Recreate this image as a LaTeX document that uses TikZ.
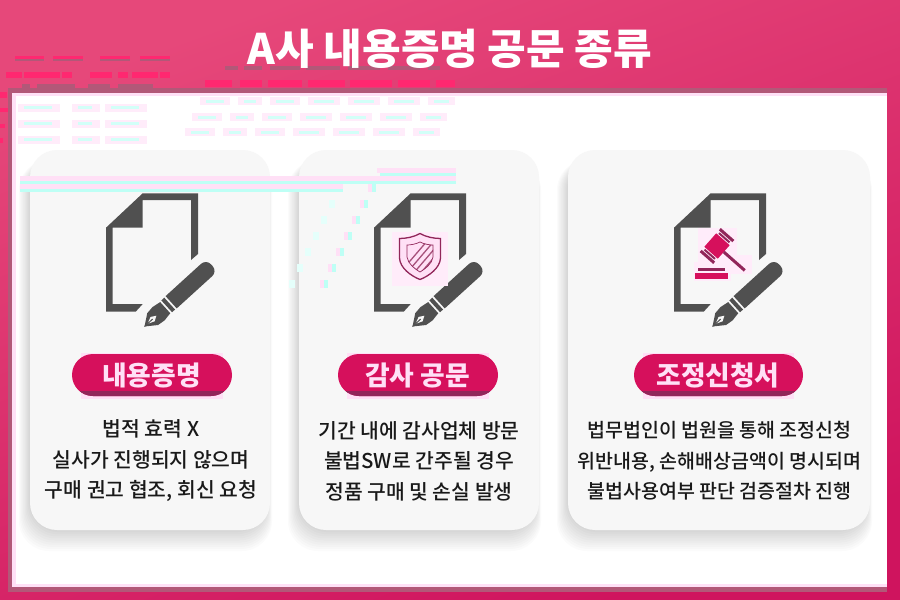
\documentclass[tikz,border=0pt]{standalone}
\usepackage{fontspec}
\setmainfont{Noto Sans CJK KR Medium}
\newfontfamily\krb{Noto Sans CJK KR Black}
\definecolor{bgA}{RGB}{230,72,122}
\definecolor{bgB}{RGB}{207,20,94}
\definecolor{ink}{RGB}{80,80,80}
\definecolor{cardc}{RGB}{247,247,247}
\definecolor{crim}{RGB}{214,16,92}
\definecolor{crimd}{RGB}{145,38,90}
\definecolor{halo}{RGB}{255,224,246}
\definecolor{halol}{RGB}{255,236,250}
\definecolor{ciano}{RGB}{190,255,245}
\definecolor{hot}{RGB}{255,40,112}
\definecolor{mute}{RGB}{178,88,120}
\tikzset{
  x=1pt,y=-1pt,
  pilltext/.style={text=halo,font=\krb\fontsize{26.8}{26.8}\selectfont,inner sep=0},
  bodytext/.style={text=black!90,font=\fontsize{20.4}{30.5}\selectfont,align=center,inner sep=0},
  bodywide/.style={text=black!90,font=\fontsize{19.5}{30.5}\selectfont,align=center,inner sep=0},
  titletext/.style={text=white,font=\krb\fontsize{42}{42}\selectfont,inner sep=0},
}
\newcommand\rr[5]{\fill[#5] (#1,#3) -- (#2,#3) -- (#2,#4) -- (#1,#4) -- cycle;}
\newcommand\mycard[2]{%
  \foreach \s in {20,18,...,2}{%
    \fill[black,opacity=0.016,rounded corners=30pt] (#1-\s*0.55,160) rectangle (#2-4+\s*0.3,530+\s*1.05);
  }
  \fill[cardc,rounded corners=27pt] (#1,150) rectangle (#2,530);
}
\newcommand\docicon[1]{%
  \begin{scope}[shift={(#1,0)}]
    \fill[ink] (106,227.7)--(142.7,193.3)--(198,193.3)--(198,254)--(191,260)--(191,200)--(142.7,200)--(142.7,227.7)--(112.7,227.7)--(112.7,304)--(142.7,304)--(135.7,311.7)--(106,311.7)--cycle;
    \begin{scope}[shift={(144.5,326.5)},x={(0.74pt,0.673pt)},y={(0.673pt,-0.74pt)}]
      \fill[ink] (36,-8.3) [rounded corners=7pt] -- (91,-8.3) -- (91,8.3) [sharp corners] -- (36,8.3) -- cycle;
      \rr{30}{34}{-8}{8}{ink}
      \fill[ink] (0,0) -- (11,-8) -- (19,-9) -- (28,-7.5) -- (28,7.5) -- (19,9) -- (11,8) -- cycle;
      \fill[cardc] (4,0) -- (11,-3) -- (16,0) -- (11,3) -- cycle;
      \rr{0}{11}{-0.5}{0.5}{ink}
    \end{scope}
  \end{scope}
}
\newcommand\mypill[4]{%
  \fill[halo] (#1+9,353) rectangle (#2-9,399);
  \fill[crim,rounded corners=21pt] (#1,354) rectangle (#2,396);
  \begin{scope}
    \clip (#1,391) rectangle (#2,397);
    \fill[crimd,rounded corners=21pt] (#1,354) rectangle (#2,396);
  \end{scope}
  \node[pilltext] (#4) at ({(#1+#2)/2-0.5},375) {#3};
}
\begin{document}
\begin{tikzpicture}
\useasboundingbox (0,0) rectangle (900,600);
\shade[top color=bgA,bottom color=bgB,shading angle=20] (0,0) rectangle (900,600);
\fill[mute] (8,88) rectangle (887,93);
\fill[mute] (8,88) rectangle (12,592);
\fill[mute] (8,587) rectangle (887,592);
\fill[white] (12,93) rectangle (887,587);
\fill[halo] (12,93) rectangle (887,96);
\fill[halo] (12,93) rectangle (16,587);
\fill[halo] (12,584) rectangle (887,587);
\foreach \a/\b in {15/44,53/83,100/130,140/170}{\fill[hot] (\a,56) rectangle (\b,59);\fill[mute] (\a,59) rectangle (\b,61);}
\foreach \a/\b in {6/22,24/60,62/72,90/112,118/128,132/158,160/170}{\fill[hot] (\a,72) rectangle (\b,78);}
\foreach \a/\b in {22/30,37/75,88/110,118/153}{\fill[mute] (\a,84) rectangle (\b,88);}
\fill[hot] (0,92) rectangle (7,98);\fill[hot] (0,108) rectangle (8,112);\fill[hot] (0,124) rectangle (5,128);\fill[hot] (0,138) rectangle (3,143);
\foreach \y in {104,120,136}{\foreach \a/\b in {18/60,72/100,105/147}{\fill[halol] (\a,\y) rectangle (\b,\y+8);\fill[ciano!70] (\a+6,\y+2) rectangle (\b-8,\y+5);}}
\foreach \a/\b in {225/238,244/262,270/300,306/340,348/380,388/420,428/440}{\fill[mute] (\a,66) rectangle (\b,70);}
\foreach \a/\b in {205/232,240/262,268/302,308/345,350/392,398/430,436/455}{\fill[hot] (\a,80) rectangle (\b,87);}
\foreach \y/\s in {97/200,113/192,128/185}{\foreach \a/\b in {0/30,38/62,70/100,108/140,148/180,188/220,228/255}{\fill[halol] (\s+\a,\y) rectangle (\s+\b,\y+8);\fill[ciano!70] (\s+\a+6,\y+3) rectangle (\s+\b-6,\y+6);}}
\mycard{30}{270}
\mycard{299}{539}
\mycard{568}{870}
\fill[halo] (377,168) rectangle (456,173);
\fill[ciano] (380,173) rectangle (456,176);
\fill[halo] (20,176) rectangle (456,181);
\fill[ciano] (20,181) rectangle (456,184);
\fill[halo] (20,184) rectangle (343,189);
\fill[ciano] (20,189) rectangle (343,192);
\fill[halo] (368,184) rectangle (372,192);
\fill[ciano] (372,184) rectangle (376,192);
\foreach \k in {0,...,5}{%
  \fill[halo] (360-\k*8,200+\k*16) rectangle (364-\k*8,208+\k*16);
  \fill[ciano] (364-\k*8,200+\k*16) rectangle (368-\k*8,208+\k*16);
  \fill[ciano!40] (329-\k*8,200+\k*16) rectangle (335-\k*8,208+\k*16);
}
\docicon{0}
\docicon{268}
\docicon{568}
\fill[halol] (392,232) rectangle (448,286);
\path[fill=halo,draw=crimd,line width=1.3pt] (420,233.5) .. controls (414,237) and (406,238.5) .. (399.5,238.5) -- (399.5,258) .. controls (400,268) and (411,276) .. (420,279.5) .. controls (429,276) and (440,268) .. (440.5,258) -- (440.5,238.5) .. controls (434,238.5) and (426,237) .. cycle;
\begin{scope}
  \clip (420,242) .. controls (416,244) and (411,245) .. (407,245) -- (407,257) .. controls (408,264) and (415,269) .. (420,272) .. controls (425,269) and (432,264) .. (433,257) -- (433,245) .. controls (429,245) and (424,244) .. cycle;
  \foreach \k in {0,...,6}{\draw[crimd!80,line width=1.3pt] (398+\k*7,275) -- (428+\k*7,240);}
\end{scope}
\draw[crimd,line width=.7pt] (420,242) .. controls (416,244) and (411,245) .. (407,245) -- (407,257) .. controls (408,264) and (415,269) .. (420,272) .. controls (425,269) and (432,264) .. (433,257) -- (433,245) .. controls (429,245) and (424,244) .. cycle;
\fill[halol] (698,228) rectangle (737,262);
\fill[halol] (694,262) rectangle (731,281);
\fill[halol] (725,255) rectangle (752,274);
\fill[crimd] (698,267.5) rectangle (725,271);
\fill[crim] (694.5,273) rectangle (728,279);
\begin{scope}[shift={(717,246)},x={(0.66pt,0.75pt)},y={(0.75pt,-0.66pt)}]
  \rr{-9}{9}{-9}{9}{crim}
  \rr{-12}{-10}{-7}{7}{crimd}
  \rr{-16}{-13}{-9}{9}{crimd}
  \rr{10}{12}{-7}{7}{crimd}
  \rr{13}{16}{-9}{9}{crimd}
  \rr{-1.5}{1.5}{9}{37}{crimd}
\end{scope}
\mypill{72}{232}{내용증명}{p1}
\mypill{338}{498}{감사 공문}{p2}
\mypill{634}{803}{조정신청서}{p3}
\node[titletext] (title) at (450,49) {A사 내용증명 공문 종류};
\node[bodytext] (t1) at (151,461) {법적 효력 X\\실사가 진행되지 않으며\\구매 권고 협조, 회신 요청};
\node[bodytext] (t2) at (419,461) {기간 내에 감사업체 방문\\불법SW로 간주될 경우\\정품 구매 및 손실 발생};
\node[bodywide] (t3) at (719.5,461) {법무법인이 법원을 통해 조정신청\\위반내용, 손해배상금액이 명시되며\\불법사용여부 판단 검증절차 진행};
\end{tikzpicture}
\end{document}
